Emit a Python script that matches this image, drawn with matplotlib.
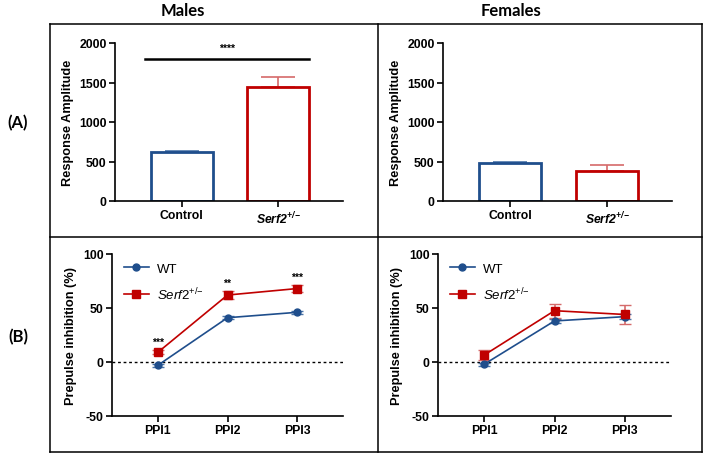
import numpy as np
import matplotlib
matplotlib.use('agg')
import matplotlib.pyplot as plt
from matplotlib.lines import Line2D

plt.rcParams['font.family'] = ['Liberation Sans', 'DejaVu Sans']
plt.rcParams['font.weight'] = 'bold'
plt.rcParams['axes.unicode_minus'] = False
plt.rcParams['mathtext.fontset'] = 'custom'
plt.rcParams['mathtext.rm'] = 'Liberation Sans:normal'
plt.rcParams['mathtext.it'] = 'Liberation Sans:italic:normal'
plt.rcParams['mathtext.bf'] = 'Liberation Sans:bold'
plt.rcParams['mathtext.bfit'] = 'Liberation Sans:italic:bold'

# ---- data
groups = ['Control', r'$\mathbfit{Serf2}^{\mathbfit{{+}/{-}}}$']
male_amp = [618, 1440]
male_amp_err = [20, 130]
female_amp = [482, 386]
female_amp_err = [10, 65]

ppi = ['PPI1', 'PPI2', 'PPI3']
male_wt = [-3, 41, 46]
male_wt_err = [1.5, 1.5, 1.5]
male_ko = [9, 62, 68]
male_ko_err = [2, 3.5, 3]
female_wt = [-2, 38, 42]
female_wt_err = [1.5, 1.5, 2]
female_ko = [6.5, 47.5, 44]
female_ko_err = [4.5, 6.5, 9]
male_stars = ['***', '**', '***']

blue = '#1f4e8c'
red = '#c00000'
red_err = '#d56a6a'
blue_err = '#4a74a8'

W, H = 709, 456
fig = plt.figure(figsize=(W/100, H/100), dpi=100)

def px(x0, y0, x1, y1):
    return [x0/W, 1-y1/H, (x1-x0)/W, (y1-y0)/H]

def style(ax):
    for s in ['top', 'right']:
        ax.spines[s].set_visible(False)
    for s in ['left', 'bottom']:
        ax.spines[s].set_linewidth(1.2)
    ax.tick_params(width=1.2, length=4, labelsize=8.8, pad=2)

def bar_panel(rect, vals, errs):
    ax = fig.add_axes(rect)
    x = np.arange(len(vals))
    cols = [blue, red]
    ecols = [blue_err, red_err]
    for i in range(len(vals)):
        ax.bar(x[i], vals[i], width=0.64, facecolor='white', edgecolor=cols[i], linewidth=2.0, zorder=2)
        ax.errorbar(x[i], vals[i], yerr=[[0], [errs[i]]], color=ecols[i], capsize=12, elinewidth=1.2, capthick=1.2, zorder=1)
    ax.set_xlim(-0.69, 1.67)
    ax.set_ylim(0, 2000)
    ax.set_yticks([0, 500, 1000, 1500, 2000])
    ax.set_xticks(x)
    ax.set_xticklabels(groups)
    ax.set_ylabel('Response Amplitude', fontsize=9.2, fontweight='bold', labelpad=4)
    style(ax)
    return ax

def line_panel(rect, wt, wte, ko, koe, stars=None):
    ax = fig.add_axes(rect)
    x = np.arange(len(ppi))
    ax.axhline(0, color='black', linestyle=(0, (2, 2)), linewidth=1.0, zorder=0)
    ax.errorbar(x, wt, yerr=wte, color=blue, marker='o', markersize=5, linewidth=1.2, capsize=4, ecolor=blue_err)
    ax.errorbar(x, ko, yerr=koe, color=red, marker='s', markersize=5.5, linewidth=1.2, capsize=4, ecolor=red_err)
    if stars:
        for i, s in enumerate(stars):
            ax.text(x[i], ko[i] + koe[i] + 3, s, ha='center', va='bottom', fontsize=7.5, fontweight='bold')
    ax.set_xlim(-0.66, 2.66)
    ax.set_ylim(-50, 100)
    ax.set_yticks([-50, 0, 50, 100])
    ax.set_xticks(x)
    ax.set_xticklabels(ppi)
    ax.set_ylabel('Prepulse inhibition (%)', fontsize=9.2, fontweight='bold', labelpad=4)
    handles = [Line2D([], [], color=blue, marker='o', markersize=5, linewidth=1.2),
               Line2D([], [], color=red, marker='s', markersize=5.5, linewidth=1.2)]
    labels = ['WT', r'$\mathit{Serf2}^{\mathit{{+}/{-}}}$']
    ax.legend(handles, labels, loc='upper left', bbox_to_anchor=(0.0, 1.02), frameon=False,
              prop={'size': 9.5, 'weight': 'normal'}, handlelength=1.9, handletextpad=0.6, labelspacing=0.8)
    style(ax)
    return ax

axm = bar_panel(px(115, 44, 343, 202), male_amp, male_amp_err)
axf = bar_panel(px(443, 44, 672, 202), female_amp, female_amp_err)
axm.plot([-0.38, 1.32], [1800, 1800], color='black', linewidth=1.8)
axm.text(0.47, 1880, '****', ha='center', va='bottom', fontsize=7.5, fontweight='bold')

line_panel(px(112, 255, 343, 417), male_wt, male_wt_err, male_ko, male_ko_err, male_stars)
line_panel(px(438, 255, 671, 417), female_wt, female_wt_err, female_ko, female_ko_err)

# table frame
def fline(x0, y0, x1, y1):
    fig.add_artist(Line2D([x0/W, x1/W], [1-y0/H, 1-y1/H], color='black', linewidth=1.1))

fline(50, 25, 702, 25)
fline(50, 238, 702, 238)
fline(50, 453, 702, 453)
fline(50, 25, 50, 453)
fline(378, 25, 378, 453)
fline(702, 25, 702, 453)

for txt, xx, yy in [('Males', 183, 11), ('Females', 511, 11), ('(A)', 18, 123), ('(B)', 18, 337)]:
    fig.text(xx/W, 1-yy/H, txt, ha='center', va='center', fontsize=12, fontweight='bold',
             family=['Lato', 'DejaVu Sans'])

fig.savefig('out.png', dpi=100)
